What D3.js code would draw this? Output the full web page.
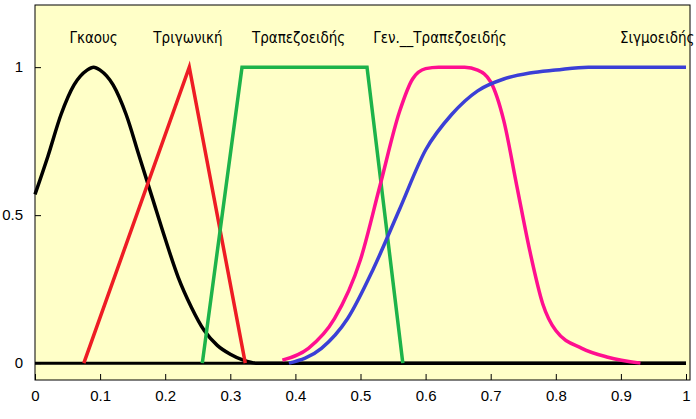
<!DOCTYPE html>
<html>
<head>
<meta charset="utf-8">
<script src="https://d3js.org/d3.v7.min.js"></script>
<style>body{margin:0;background:#fff}</style>
</head>
<body>
<div id="chart"></div>
<script>
// values
var xTicks = [0,0.1,0.2,0.3,0.4,0.5,0.6,0.7,0.8,0.9,1];
var yTicks = [0,0.5,1];
var names = ["Γκαους","Τριγωνική","Τραπεζοειδής","Γεν.__Τραπεζοειδής","Σιγμοειδής"];
var labelX = [0.09,0.235,0.405,0.622,1.013];
var colors = ["#000000","#ee1c24","#1db34a","#ff0f8f","#3b3fd6"];
var gauss = [[0,0.57],[0.02,0.70],[0.04,0.84],[0.06,0.94],[0.08,0.99],[0.09,1],[0.1,0.99],[0.12,0.94],[0.14,0.84],[0.16,0.70],[0.18,0.56],[0.2,0.42],[0.22,0.29],[0.24,0.19],[0.26,0.11],[0.28,0.06],[0.3,0.03],[0.32,0.01],[0.34,0],[1,0]];
var tri = [[0.075,0],[0.237,1],[0.323,0]];
var trap = [[0.257,0],[0.318,1],[0.51,1],[0.565,0]];
var gbell = [[0.38,0.01],[0.42,0.05],[0.46,0.15],[0.5,0.35],[0.53,0.6],[0.56,0.85],[0.58,0.96],[0.6,0.995],[0.62,1],[0.66,1],[0.68,0.99],[0.7,0.95],[0.72,0.82],[0.74,0.6],[0.76,0.38],[0.78,0.2],[0.8,0.11],[0.84,0.05],[0.88,0.02],[0.93,0]];
var sigm = [[0.39,0],[0.44,0.05],[0.48,0.15],[0.52,0.32],[0.56,0.52],[0.6,0.72],[0.64,0.84],[0.68,0.92],[0.72,0.96],[0.76,0.98],[0.8,0.99],[0.85,1],[1,1]];

var W = 696, H = 419;
var svg = d3.select("#chart").append("svg").attr("width", W).attr("height", H);
var x = d3.scaleLinear().domain([0,1]).range([35,686]);
var y = d3.scaleLinear().domain([-0.057,1.21]).range([380,5]);

svg.append("rect").attr("x",35).attr("y",5).attr("width",655).attr("height",375)
  .attr("fill","#ffffc8").attr("stroke","#000").attr("stroke-width",1);

var line = d3.line().x(d => x(d[0])).y(d => y(d[1]));
var curve = d3.line().x(d => x(d[0])).y(d => y(d[1])).curve(d3.curveMonotoneX);

svg.append("path").attr("d", line([[0,0],[1,0]])).attr("stroke","#000").attr("stroke-width",3).attr("fill","none");
svg.append("path").attr("d", curve(gauss)).attr("stroke",colors[0]).attr("stroke-width",3.5).attr("fill","none");
svg.append("path").attr("d", line(tri)).attr("stroke",colors[1]).attr("stroke-width",3.5).attr("fill","none");
svg.append("path").attr("d", line(trap)).attr("stroke",colors[2]).attr("stroke-width",3.5).attr("fill","none");
svg.append("path").attr("d", curve(gbell)).attr("stroke",colors[3]).attr("stroke-width",3.5).attr("fill","none");
svg.append("path").attr("d", curve(sigm)).attr("stroke",colors[4]).attr("stroke-width",3.5).attr("fill","none");

svg.selectAll("text.lab").data(names).enter().append("text")
  .attr("x", (d,i) => x(labelX[i])).attr("y", 43)
  .attr("text-anchor",(d,i) => i === names.length - 1 ? "end" : "middle")
  .attr("font-family","Liberation Sans Narrow, DejaVu Sans Condensed, sans-serif")
  .attr("font-size",15).attr("fill","#000").text(d => d);

var ax = svg.append("g").attr("transform","translate(0,380)")
  .call(d3.axisBottom(x).tickValues(xTicks).tickSize(-6).tickFormat(d3.format("")));
ax.select(".domain").remove();
ax.selectAll("text").attr("dy","1.2em").attr("font-size",15).attr("font-family","Liberation Sans, sans-serif");

var ay = svg.append("g").attr("transform","translate(35,0)")
  .call(d3.axisLeft(y).tickValues(yTicks).tickSize(-6).tickFormat(d3.format("")));
ay.select(".domain").remove();
ay.selectAll("text").attr("dx","-0.6em").attr("font-size",15).attr("font-family","Liberation Sans, sans-serif");
</script>
</body>
</html>
